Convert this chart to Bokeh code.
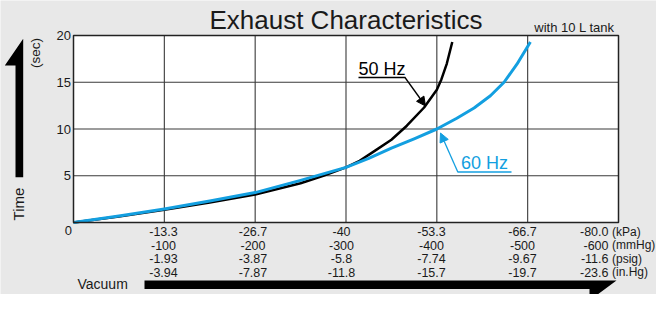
from bokeh.plotting import figure
from bokeh.models import Range1d, Label, Arrow, NormalHead, PolyAnnotation
from bokeh.embed import file_html
from bokeh.resources import INLINE

# ---------------- data ----------------
# x = vacuum magnitude in units of 100 mmHg, y = exhaust time (sec)
x_50hz = [0, 0.5, 1.0, 1.5, 2.0, 2.5, 2.75, 3.0, 3.15, 3.3, 3.5, 3.67, 3.86,
          4.0, 4.05, 4.11, 4.17]
t_50hz = [0, 0.65, 1.35, 2.15, 3.0, 4.2, 5.0, 5.9, 6.6, 7.55, 8.85, 10.35, 12.3,
          14.2, 15.3, 17.0, 19.3]

x_60hz = [0, 0.5, 1.0, 1.5, 2.0, 2.5, 2.75, 3.0, 3.25, 3.5, 3.75, 4.0, 4.22,
          4.41, 4.59, 4.74, 4.88, 5.03]
t_60hz = [0, 0.7, 1.45, 2.3, 3.2, 4.5, 5.2, 5.9, 6.85, 7.95, 8.95, 10.0, 11.15,
          12.25, 13.55, 15.0, 16.9, 19.3]

x_ticks = [1, 2, 3, 4, 5, 6]
y_ticks = [5, 10, 15, 20]
y_tick_labels = ["5", "10", "15", "20"]
kpa_labels = ["-13.3", "-26.7", "-40", "-53.3", "-66.7", "-80.0"]
mmhg_labels = ["-100", "-200", "-300", "-400", "-500", "-600"]
psig_labels = ["-1.93", "-3.87", "-5.8", "-7.74", "-9.67", "-11.6"]
inhg_labels = ["-3.94", "-7.87", "-11.8", "-15.7", "-19.7", "-23.6"]
unit_labels = ["(kPa)", "(mmHg)", "(psig)", "(in.Hg)"]

title_text = "Exhaust Characteristics"
note_text = "with 10 L tank"

# ---------------- layout helpers ----------------
W, H = 656, 294
FONT = "Liberation Sans"
BLUE = "#139fe0"
TXT = "#1a1a1a"
# plot area in canvas pixels
FL, FR, FT, FB = 73, 618, 35, 222
XMAX, YMAX = 6, 20


def dx(px):
    return (px - FL) * XMAX / (FR - FL)


def dy(py):
    return (FB - py) * YMAX / (FB - FT)


p = figure(width=W, height=H, output_backend="svg", toolbar_location=None,
           x_range=Range1d(dx(0), dx(W)), y_range=Range1d(dy(H), dy(0)),
           x_axis_location=None, y_axis_location=None,
           min_border=0, min_border_left=0, min_border_right=0,
           min_border_top=0, min_border_bottom=0)
p.background_fill_color = "#e8e8e8"
p.border_fill_color = "#e8e8e8"
p.outline_line_color = None
p.grid.visible = False

# plot area
p.quad(left=[0], right=[XMAX], bottom=[0], top=[YMAX],
       fill_color="white", line_color=None)
gx = x_ticks[:-1]
p.segment(x0=gx, y0=[0] * len(gx), x1=gx, y1=[YMAX] * len(gx),
          line_color="#3a3a3a", line_width=1.1)
gy = y_ticks[:-1]
p.segment(x0=[0] * len(gy), y0=gy, x1=[XMAX] * len(gy), y1=gy,
          line_color="#3a3a3a", line_width=1.1)

# curves
p.line(x_50hz, t_50hz, line_color="black", line_width=2.5, line_join="round")
p.line(x_60hz, t_60hz, line_color=BLUE, line_width=3, line_join="round")

# frame border
p.quad(left=[0], right=[XMAX], bottom=[0], top=[YMAX],
       fill_color=None, line_color="#222222", line_width=1.5)


def label(px, py, text, size, align="left", color=TXT, angle=0, xdata=None, ydata=None):
    p.add_layout(Label(x=dx(px) if xdata is None else xdata,
                       y=dy(py) if ydata is None else ydata,
                       text=text, text_font=FONT,
                       text_font_size=size, text_align=align,
                       text_baseline="middle", text_color=color,
                       angle=angle, angle_units="deg"))


# title and note
label(345.5, 19.2, title_text, "26px", align="center")
label(614, 26.5, note_text, "13px", align="right")

# y tick labels
for yv, txt in zip(y_ticks, y_tick_labels):
    label(70.5, None, txt, "13px", align="right", ydata=yv)
label(71.5, 229.5, "0", "13px", align="right")

# x tick label rows (centres in px for each column; last column right aligned)
col_centres = [163, 252.5, 341, 431, 522]
last_right = 608
row_centres = [231, 244.5, 258, 271.5]
rows = [kpa_labels, mmhg_labels, psig_labels, inhg_labels]
for r, (row, yc) in enumerate(zip(rows, row_centres)):
    for i, txt in enumerate(row):
        if i < len(col_centres):
            label(col_centres[i], yc, txt, "12.5px", align="center")
        else:
            label(last_right, yc, txt, "12.5px", align="right")
    label(611.5, yc, unit_labels[r], "12px")

# axis titles
label(35, 52.5, "(sec)", "13.5px", align="center", angle=90)
label(18, 203.5, "Time", "15px", align="center", angle=90)
label(77, 283.5, "Vacuum", "14px")

# big arrows (half-barb)
v_xs = [15, 22.7, 22.7, 4.3, 15]
v_ys = [176.7, 176.7, 38.3, 65, 65]
p.add_layout(PolyAnnotation(xs=[dx(v) for v in v_xs], ys=[dy(v) for v in v_ys],
                            fill_color="black", fill_alpha=1, line_color=None))
h_xs = [144, 616, 589, 589, 144]
h_ys = [280, 280, 300, 288.5, 288.5]
p.add_layout(PolyAnnotation(xs=[dx(v) for v in h_xs], ys=[dy(v) for v in h_ys],
                            fill_color="black", fill_alpha=1, line_color=None))

# series callouts
label(358, 68, "50 Hz", "18px", color="black")
p.add_layout(Arrow(x_start=dx(358), y_start=dy(77), x_end=dx(405), y_end=dy(77),
                   end=None, line_color="black", line_width=1.3))
p.add_layout(Arrow(x_start=dx(404.5), y_start=dy(77), x_end=dx(425), y_end=dy(105.5),
                   end=NormalHead(size=9, fill_color="black", line_color="black", line_width=1),
                   line_color="black", line_width=1.3))

label(460.5, 162.5, "60 Hz", "18px", color=BLUE)
p.add_layout(Arrow(x_start=dx(457), y_start=dy(171.5), x_end=dx(511), y_end=dy(171.5),
                   end=None, line_color=BLUE, line_width=1.3))
p.add_layout(Arrow(x_start=dx(457.3), y_start=dy(171.5), x_end=dx(440), y_end=dy(132.5),
                   end=NormalHead(size=9, fill_color=BLUE, line_color=BLUE, line_width=1),
                   line_color=BLUE, line_width=1.3))

open("out.html", "w").write(file_html(p, INLINE))
